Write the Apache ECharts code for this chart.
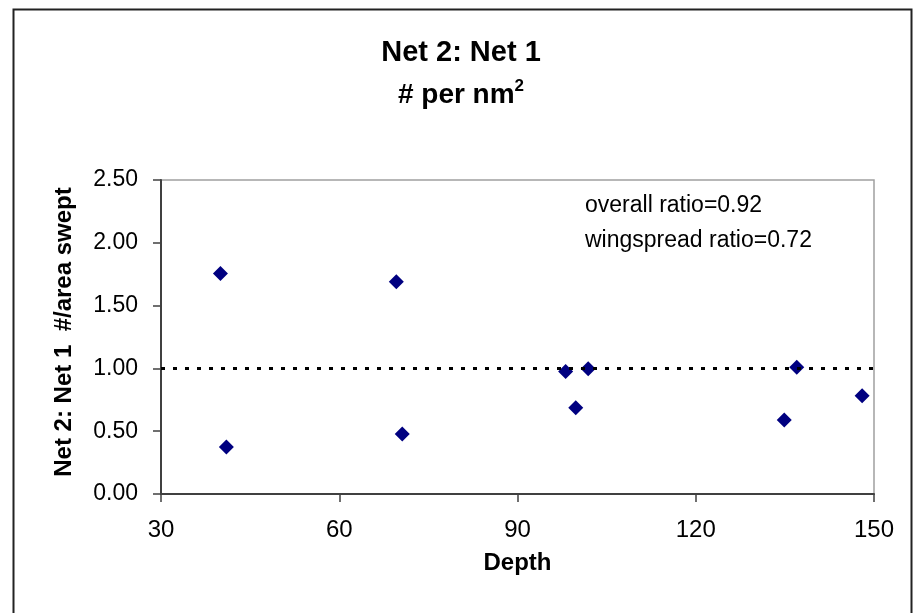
<!DOCTYPE html>
<html>
<head>
<meta charset="utf-8">
<script src="https://cdn.jsdelivr.net/npm/echarts@6/dist/echarts.min.js"></script>
<style>
  html, body { margin: 0; padding: 0; background: #fff; }
  #chart { width: 916px; height: 613px; }
</style>
</head>
<body>
<div id="chart"></div>
<script>
// Station depth (m) and Net 2 : Net 1 catch ratio per area swept
const depths = [40.0, 41.0, 69.6, 70.6, 98.1, 101.9, 99.8, 134.9, 137.0, 148.0];
const ratios = [1.755, 0.374, 1.69, 0.477, 0.975, 0.997, 0.687, 0.589, 1.01, 0.782];

const xTicks = { min: 30, max: 150, interval: 30 };
const yTicks = { min: 0, max: 2.5, interval: 0.5 };
const referenceRatio = 1;
const notes = ['overall ratio=0.92', 'wingspread ratio=0.72'];
const yTitle = 'Net 2: Net 1  #/area swept';

const FONT = 'Arial, "Liberation Sans", Helvetica, sans-serif';

const chart = echarts.init(document.getElementById('chart'), null, { renderer: 'canvas' });

chart.setOption({
  backgroundColor: '#ffffff',
  animation: false,
  grid: {
    left: 161, top: 180, right: 42, bottom: 119,
    show: true, borderColor: '#a0a0a0', borderWidth: 1.5,
    backgroundColor: 'transparent'
  },
  xAxis: {
    type: 'value',
    min: xTicks.min, max: xTicks.max, interval: xTicks.interval,
    name: 'Depth', nameLocation: 'middle', nameGap: 57,
    nameTextStyle: { fontFamily: FONT, fontWeight: 'bold', fontSize: 24, color: '#000' },
    axisLine: { show: true, onZero: false, lineStyle: { color: '#404040', width: 2 } },
    axisTick: { show: true, inside: false, length: 8, lineStyle: { color: '#404040', width: 1.5 } },
    axisLabel: { margin: 24, fontFamily: FONT, fontSize: 24, color: '#000' },
    splitLine: { show: false }
  },
  yAxis: {
    type: 'value',
    min: yTicks.min, max: yTicks.max, interval: yTicks.interval,
    axisLine: { show: true, onZero: false, lineStyle: { color: '#404040', width: 2 } },
    axisTick: { show: true, inside: false, length: 8, lineStyle: { color: '#404040', width: 1.5 } },
    axisLabel: {
      margin: 23, fontFamily: FONT, fontSize: 23, color: '#000',
      formatter: v => v.toFixed(2)
    },
    splitLine: { show: false }
  },
  series: [{
    type: 'scatter',
    data: depths.map((d, i) => [d, ratios[i]]),
    symbol: 'diamond',
    symbolSize: [15, 15],
    itemStyle: { color: '#000080', opacity: 1 },
    markLine: {
      silent: true,
      symbol: ['none', 'none'],
      label: { show: false },
      lineStyle: { color: '#000', type: [4, 8], width: 3 },
      data: [{ yAxis: referenceRatio }]
    },
    z: 3
  }],
  graphic: [
    {
      type: 'rect', left: 11, top: 7, silent: true,
      shape: { width: 898, height: 640 },
      style: { fill: 'none', stroke: '#222', lineWidth: 2 }
    },
    {
      type: 'text', x: 461, y: 53, silent: true,
      style: {
        text: 'Net 2: Net 1', textAlign: 'center', textVerticalAlign: 'middle',
        font: 'bold 29px ' + FONT, fill: '#000'
      }
    },
    {
      type: 'text', x: 461, y: 95, silent: true,
      style: {
        text: '{b|# per nm}{s|2}', textAlign: 'center', textVerticalAlign: 'middle',
        rich: {
          b: { font: 'bold 28px ' + FONT, fill: '#000', lineHeight: 32 },
          s: { font: 'bold 17px ' + FONT, fill: '#000', padding: [0, 0, 18, 0], lineHeight: 19 }
        }
      }
    },
    {
      // vertical axis title
      type: 'text', x: 64, y: 332, rotation: Math.PI / 2, silent: true,
      style: {
        text: yTitle, textAlign: 'center', textVerticalAlign: 'middle',
        font: 'bold 24px ' + FONT, fill: '#000'
      }
    },
    {
      type: 'text', left: 585, top: 194, silent: true,
      style: { text: notes[0], font: '23px ' + FONT, fill: '#000' }
    },
    {
      type: 'text', left: 585, top: 229, silent: true,
      style: { text: notes[1], font: '23px ' + FONT, fill: '#000' }
    }
  ]
});
</script>
</body>
</html>
